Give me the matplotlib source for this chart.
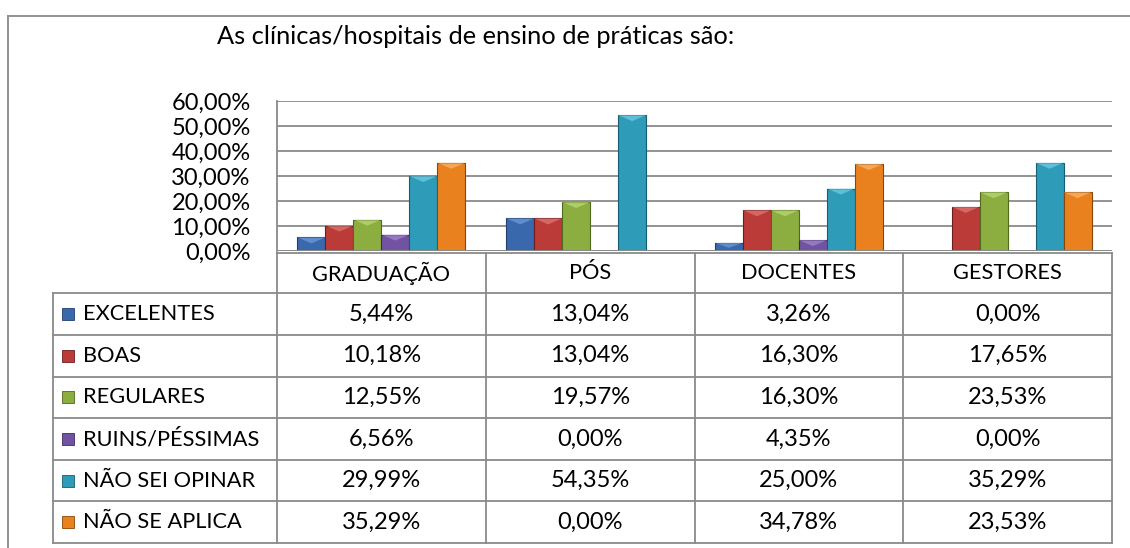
import matplotlib.pyplot as plt
from matplotlib.patches import Polygon, Rectangle
from matplotlib.ticker import FuncFormatter
import numpy as np

plt.rcParams['font.family'] = ['Lato', 'DejaVu Sans']

# Survey answers per group (percent)
groups = ["GRADUAÇÃO", "PÓS", "DOCENTES", "GESTORES"]
answers = ["EXCELENTES", "BOAS", "REGULARES", "RUINS/PÉSSIMAS", "NÃO SEI OPINAR", "NÃO SE APLICA"]
excelentes = [5.44, 13.04, 3.26, 0.00]
boas = [10.18, 13.04, 16.30, 17.65]
regulares = [12.55, 19.57, 16.30, 23.53]
ruins = [6.56, 0.00, 4.35, 0.00]
nao_sei = [29.99, 54.35, 25.00, 35.29]
nao_aplica = [35.29, 0.00, 34.78, 23.53]
series = [excelentes, boas, regulares, ruins, nao_sei, nao_aplica]

colors = ["#3a68ad", "#bb3b38", "#8cae40", "#7153a1", "#2e9cb9", "#e9811f"]
edges = ["#1f3f70", "#6e1c1a", "#4f6a1c", "#3f2a64", "#155d70", "#8a4508"]
tops = ["#7aa6e6", "#e68683", "#c4e27e", "#ad93d8", "#7fd8ee", "#ffc07a"]

W, H = 1130, 548
fig = plt.figure(figsize=(W / 100, H / 100), dpi=100)
grey = "#8a8a8a"
fs_num = 17      # numbers
fs_cap = 15.7    # upper-case labels


def px(x, y):
    return x / W, 1 - y / H


# outer chart frame
fig.add_artist(plt.Line2D([px(8, 0)[0], px(8, 0)[0]], [px(0, 16)[1], 0], color=grey, lw=1.3))
fig.add_artist(plt.Line2D([px(8, 0)[0], 1], [px(0, 16)[1], px(0, 16)[1]], color=grey, lw=1.3))

fig.text(*px(476, 36), "As clínicas/hospitais de ensino de práticas são:",
         ha="center", va="center", fontsize=18.3)

ax_l, ax_r, ax_t, ax_b = 277, 1112, 101, 251
ax = fig.add_axes([ax_l / W, 1 - ax_b / H, (ax_r - ax_l) / W, (ax_b - ax_t) / H])

x = np.arange(len(groups))
w = 0.134
bevel = 2.4
for k, vals in enumerate(series):
    for i, v in enumerate(vals):
        if v <= 0:
            continue
        xc = x[i] + (k - 2.5) * w
        ax.bar(xc, v, width=w, color=colors[k], edgecolor=edges[k], lw=0.8, zorder=3)
        d = min(bevel, v * 0.6)
        ax.add_patch(Polygon([[xc - w / 2, v], [xc + w / 2, v], [xc, v - d]],
                             closed=True, facecolor=tops[k], edgecolor="none", alpha=0.6, zorder=4))

ax.set_xlim(-0.5, len(groups) - 0.5)
ax.set_ylim(0, 60)
ax.set_yticks(np.arange(0, 61, 10))
ax.yaxis.set_major_formatter(FuncFormatter(lambda v, _: f"{v:.2f}%".replace(".", ",")))
ax.tick_params(axis="y", length=0, pad=19, labelsize=fs_num)
ax.set_xticks([])
ax.grid(axis="y", color=grey, lw=1.3, zorder=0)
for s in ["top", "right", "bottom"]:
    ax.spines[s].set_visible(False)
ax.spines["left"].set_color(grey)
ax.spines["left"].set_linewidth(1.3)
ax.axhline(0, color=grey, lw=1.3, zorder=5)

# data table under the plot
tr = ax.get_xaxis_transform()
h_ax = ax_b - ax_t


def fy(p):
    return (ax_b - p) / h_ax


left_frac = (53 - ax_l) / (ax_r - ax_l)
head_top, head_bot, row_h = 253, 293.3, 41.6
n_rows = len(answers)
row_lines = [head_bot + j * row_h for j in range(n_rows + 1)]
bottom = row_lines[-1]

kw = dict(color=grey, lw=1.3, clip_on=False)
ax.plot([-0.5, len(groups) - 0.5], [fy(head_top)] * 2, transform=tr, **kw)
for p in row_lines:
    ax.plot([left_frac, 1], [fy(p)] * 2, transform=ax.transAxes, **kw)
ax.plot([left_frac, left_frac], [fy(head_bot), fy(bottom)], transform=ax.transAxes, **kw)
for b in np.arange(len(groups) + 1) - 0.5:
    ax.plot([b, b], [fy(head_top), fy(bottom)], transform=tr, **kw)

for i, g in enumerate(groups):
    ax.text(x[i], fy((head_top + head_bot) / 2), g, transform=tr,
            ha="center", va="center", fontsize=fs_cap, clip_on=False)

for j, name in enumerate(answers):
    yc = fy(row_lines[j] + row_h / 2)
    for i in range(len(groups)):
        ax.text(x[i], yc, f"{series[j][i]:.2f}%".replace(".", ","), transform=tr,
                ha="center", va="center", fontsize=fs_num, clip_on=False)
    sq_l = (62 - ax_l) / (ax_r - ax_l)
    sq_w = 12 / (ax_r - ax_l)
    sq_h = 12 / h_ax
    ax.add_patch(Rectangle((sq_l, yc - sq_h / 2), sq_w, sq_h, transform=ax.transAxes,
                           facecolor=colors[j], edgecolor=edges[j], lw=0.6, clip_on=False))
    ax.text((83 - ax_l) / (ax_r - ax_l), yc, name, transform=ax.transAxes,
            ha="left", va="center", fontsize=fs_cap, clip_on=False)

fig.savefig("out.png", dpi=100)
